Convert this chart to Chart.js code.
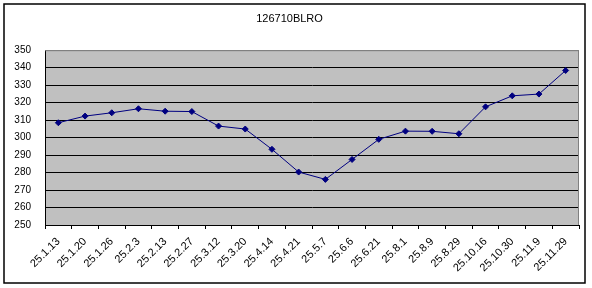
<!DOCTYPE html>
<html>
<head>
<meta charset="utf-8">
<script src="https://cdn.jsdelivr.net/npm/chart.js@4/dist/chart.umd.min.js"></script>
<style>
  html, body { margin: 0; padding: 0; background: #fff; }
  #wrap { width: 592px; height: 288px; }
</style>
</head>
<body>
<div id="wrap"><canvas id="chart" width="592" height="288"></canvas></div>
<script>
var chartTitle = "126710BLRO";
var dates = [
    "25.1.13", "25.1.20", "25.1.26", "25.2.3", "25.2.13",
    "25.2.27", "25.3.12", "25.3.20", "25.4.14", "25.4.21",
    "25.5.7", "25.6.6", "25.6.21", "25.8.1", "25.8.9",
    "25.8.29", "25.10.16", "25.10.30", "25.11.9", "25.11.29"
];
var prices = [
    308.5, 312.3, 314.2, 316.5, 315.1,
    314.9, 306.6, 304.9, 293.3, 280.3,
    276.1, 287.5, 299.0, 303.7, 303.6,
    302.2, 317.6, 323.9, 324.9, 338.4
];
var yMin = 250, yMax = 350, yStep = 10;

var fontFamily = "'Liberation Sans', Arial, sans-serif";

// grey plot background, grey top/right edge and the outer frame
var frame = {
    id: 'frame',
    beforeDraw: function(chart) {
        var c = chart.ctx, a = chart.chartArea;
        c.save();
        c.fillStyle = "#fff";
        c.fillRect(0, 0, chart.width, chart.height);
        c.fillStyle = "#c0c0c0";
        c.fillRect(a.left, a.top, a.right - a.left, a.bottom - a.top);
        c.restore();
    },
    beforeDatasetsDraw: function(chart) {
        var c = chart.ctx, a = chart.chartArea;
        c.save();
        c.strokeStyle = "#808080";
        c.lineWidth = 1;
        c.beginPath();
        c.moveTo(a.left, a.top + 0.5);
        c.lineTo(a.right - 0.5, a.top + 0.5);
        c.lineTo(a.right - 0.5, a.bottom);
        c.stroke();
        c.restore();
    },
    afterDraw: function(chart) {
        var c = chart.ctx;
        c.save();
        c.strokeStyle = "#000";
        c.lineWidth = 1.5;
        c.strokeRect(4, 4, 581, 279);
        c.restore();
    }
};

var ctx = document.getElementById("chart").getContext("2d");
var chart = new Chart(ctx, {
    type: 'line',
    data: {
        labels: dates,
        datasets: [{
            data: prices,
            borderColor: "#000080",
            backgroundColor: "#000080",
            borderWidth: 1,
            pointStyle: 'rectRot',
            pointRadius: 3,
            pointHoverRadius: 3,
            pointBorderWidth: 1,
            tension: 0,
            fill: false
        }]
    },
    options: {
        responsive: false,
        animation: false,
        layout: { padding: { left: 0, right: 13, top: 0, bottom: 0 } },
        plugins: {
            legend: { display: false },
            tooltip: { enabled: false },
            title: {
                display: true,
                text: chartTitle,
                color: "#000",
                font: { family: fontFamily, size: 11, weight: 'normal' },
                padding: { top: 12, bottom: 25 }
            }
        },
        scales: {
            x: {
                offset: true,
                grid: {
                    offset: true,
                    drawOnChartArea: false,
                    drawTicks: true,
                    tickLength: 4,
                    tickColor: "#000"
                },
                border: { display: true, color: "#000", width: 1 },
                ticks: {
                    autoSkip: false,
                    minRotation: 45,
                    maxRotation: 45,
                    padding: 6,
                    color: "#000",
                    font: { family: fontFamily, size: 11 }
                },
                afterFit: function(s) { s.height = 63; }
            },
            y: {
                min: yMin,
                max: yMax,
                grid: {
                    drawTicks: false,
                    color: function(c) {
                        return c.tick && c.tick.value === yMax ? "#808080" : "#000";
                    },
                    lineWidth: 1
                },
                border: { display: true, color: "#000", width: 1 },
                ticks: {
                    stepSize: yStep,
                    padding: 14,
                    color: "#000",
                    font: { family: fontFamily, size: 10 }
                },
                afterFit: function(s) { s.width = 45; }
            }
        }
    },
    plugins: [frame]
});
</script>
</body>
</html>
